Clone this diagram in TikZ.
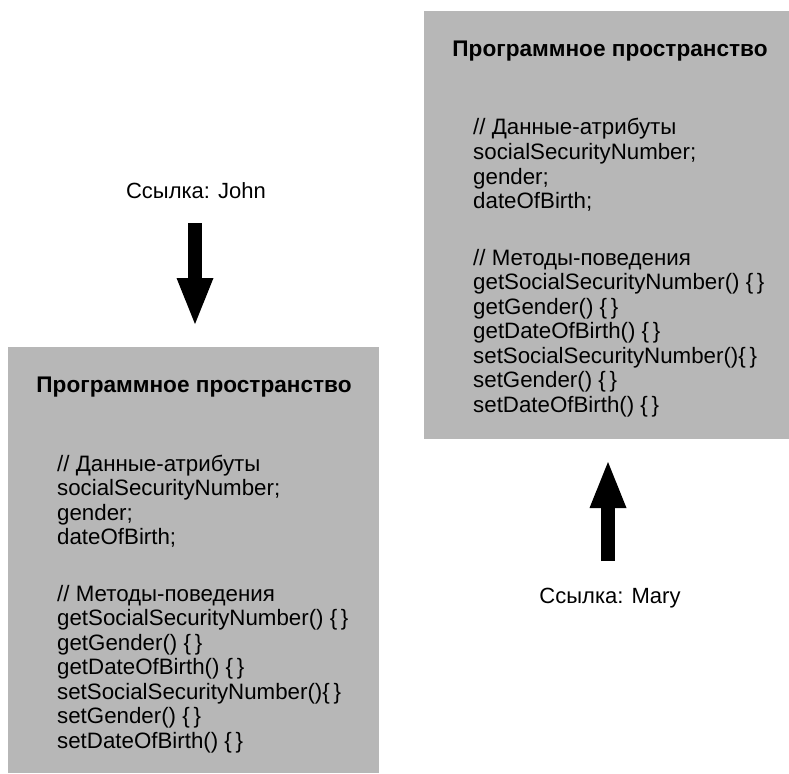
\documentclass[tikz,border=0pt]{standalone}
\usepackage{fontspec}
\setmainfont{Liberation Sans}
\usetikzlibrary{arrows.meta,calc}
\definecolor{panelgray}{RGB}{183,183,183}
\tikzset{
  panel/.style={fill=panelgray, draw=none, inner sep=0pt, outer sep=0pt, anchor=north west},
  paneltitle/.style={font=\fontsize{22.6}{26}\selectfont\bfseries, inner sep=0pt},
  codeline/.style={font=\fontsize{22.3}{24}\selectfont, anchor=base west, inner sep=0pt},
  reflabel/.style={font=\fontsize{22}{24}\selectfont, inner sep=0pt, anchor=base},
  bigarrow/.style={line width=14pt, -{Triangle[length=46pt,width=37pt,line width=0pt]}},
}
% Object memory area: title plus attribute and method listing,
% placed relative to the top-left corner of the panel node #1
\newcommand\objectlisting[1]{%
  \node[paneltitle] (#1-title) at ($(#1.north west)+(186,40)$) {Программное пространство};
  \node[codeline] (#1-a0) at ($(#1.north west)+(49,124)$) {// Данные-атрибуты};
  \node[codeline] (#1-a1) at ($(#1.north west)+(49,148.5)$) {socialSecurityNumber;};
  \node[codeline] (#1-a2) at ($(#1.north west)+(49,173)$) {gender;};
  \node[codeline] (#1-a3) at ($(#1.north west)+(49,197.5)$) {dateOfBirth;};
  \node[codeline] (#1-m0) at ($(#1.north west)+(49,254)$) {// Методы-поведения};
  \node[codeline] (#1-m1) at ($(#1.north west)+(49,278.5)$) {getSocialSecurityNumber() \{\,\}};
  \node[codeline] (#1-m2) at ($(#1.north west)+(49,303)$) {getGender() \{\,\}};
  \node[codeline] (#1-m3) at ($(#1.north west)+(49,327.5)$) {getDateOfBirth() \{\,\}};
  \node[codeline] (#1-m4) at ($(#1.north west)+(49,352)$) {setSocialSecurityNumber()\{\,\}};
  \node[codeline] (#1-m5) at ($(#1.north west)+(49,376.5)$) {setGender() \{\,\}};
  \node[codeline] (#1-m6) at ($(#1.north west)+(49,401)$) {setDateOfBirth() \{\,\}};
}
\begin{document}
\begin{tikzpicture}[x=1pt,y=-1pt]
  \useasboundingbox (0,0) rectangle (789,773);

  % the two object panels
  \node[panel, minimum width=371pt, minimum height=426pt] (john-obj) at (8,347) {};
  \node[panel, minimum width=365pt, minimum height=428pt] (mary-obj) at (424,11) {};
  \objectlisting{john-obj}
  \objectlisting{mary-obj}

  % references
  \node[reflabel] (john) at (196,198) {Ссылка: John};
  \node[reflabel] (mary) at (610,603) {Ссылка: Mary};

  \draw[bigarrow, shorten <=25pt, shorten >=23pt]
    ([xshift=-1pt]john.base) -- ([xshift=-1pt]john.base |- john-obj.north);
  \draw[bigarrow, shorten <=26pt, shorten >=23pt]
    ([xshift=-2pt,yshift=16pt]mary.base) -- ([xshift=-2pt]mary.base |- mary-obj.south);
\end{tikzpicture}
\end{document}
